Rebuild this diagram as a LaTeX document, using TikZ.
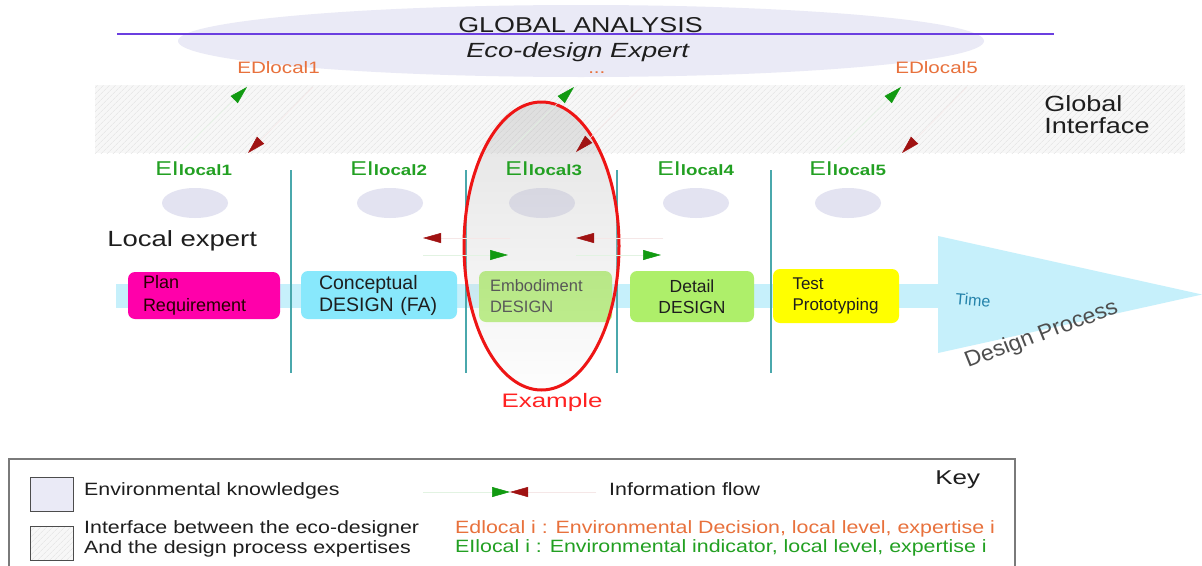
\documentclass[tikz,border=0pt]{standalone}
\usepackage{fontspec}
\setmainfont{Liberation Sans}
\usetikzlibrary{arrows.meta,patterns.meta,shapes.geometric}
\definecolor{cPurple}{HTML}{6B3FE0}
\definecolor{cBigEll}{HTML}{EAEAF6}
\definecolor{cSmallEll}{HTML}{E3E3F1}
\definecolor{cOrange}{HTML}{E8713C}
\definecolor{cGreenTxt}{HTML}{22A022}
\definecolor{cArrG}{HTML}{119A11}
\definecolor{cArrR}{HTML}{A01212}
\definecolor{cTeal}{HTML}{4AA8AC}
\definecolor{cTime}{HTML}{C6F0FB}
\definecolor{cMagenta}{HTML}{FF00AA}
\definecolor{cCyan}{HTML}{88E8FC}
\definecolor{cLime}{HTML}{AEEF6A}
\definecolor{cYellow}{HTML}{FFFF00}
\definecolor{cRed}{HTML}{EE1515}
\definecolor{cExample}{HTML}{FF2222}
\definecolor{cTimeTxt}{HTML}{2382AA}
\definecolor{cDP}{HTML}{4E4E4E}
\definecolor{cDark}{HTML}{1E1E1E}
\definecolor{cBorder}{HTML}{7A7A7A}
\newcommand\fsz[2]{\fontsize{#1}{#2}\selectfont}
\begin{document}
\begin{tikzpicture}[x=1pt,y=-1pt,
  txt/.style={inner sep=0pt, anchor=base west, text=cDark},
  hatch/.style={preaction={fill=black!3}, pattern={Lines[angle=45,distance=4pt,line width=0.5pt]}, pattern color=black!12},
  envk/.style={ellipse, fill=cSmallEll, minimum width=66pt, minimum height=30pt, inner sep=0pt},
  eilab/.style={txt, text=cGreenTxt, font=\fsz{20}{24}, xscale=1.25},
  edlab/.style={txt, text=cOrange, font=\fsz{16.5}{20}, xscale=1.25},
  vline/.style={draw=cTeal, line width=1.5pt},
  stage/.style={rectangle, rounded corners=7pt, inner ysep=0pt, align=left},
  flowg/.style={draw=cArrG!12, line width=0.5pt, -{Triangle[length=18pt,width=10pt,color=cArrG]}},
  flowr/.style={draw=cArrR!10, line width=0.5pt, -{Triangle[length=18pt,width=10pt,color=cArrR]}},
  legtxt/.style={txt, font=\fsz{17.8}{20}, xscale=1.2},
  keybox/.style={rectangle, draw=black!70, line width=0.8pt, minimum width=43pt, minimum height=34pt, inner sep=0pt}
]
\useasboundingbox (0,0) rectangle (1202,565);
\fill[white] (0,0) rectangle (1202,565);

% global analysis
\node[ellipse, fill=cBigEll, minimum width=806pt, minimum height=72pt, inner sep=0pt] (global) at (581,41) {};
\coordinate (pl) at (117,34);
\coordinate (pr) at (1054,34);
\draw[cPurple, line width=1.5pt] (pl) -- (pr);
\node[txt, font=\fsz{21.5}{26}, xscale=1.25] (ga) at (458,32) {GLOBAL ANALYSIS};
\node[txt, font=\fsz{20.5}{24}\itshape, xscale=1.33] (eco) at (466,57) {Eco-design Expert};

% global interface band
\node[hatch, minimum width=1090pt, minimum height=68pt, inner sep=0pt] (band) at (640,119) {};
\node[txt, font=\fsz{22}{22}, xscale=1.23, align=left] (gitxt) at (1044,133) {Global\\Interface};

% decisions
\node[edlab] (ed1) at (237,73) {EDlocal1};
\node[edlab] (ed3) at (588,73) {...};
\node[edlab] (ed5) at (895,73) {EDlocal5};

% environmental knowledge ellipses
\node[envk] (ek1) at (195,203) {};
\node[envk] (ek2) at (390,203) {};
\node[envk] (ek3) at (542,203) {};
\node[envk] (ek4) at (696,203) {};
\node[envk] (ek5) at (848,203) {};

% time band
\fill[cTime] (116,284) rectangle (940,308);
\fill[cTime] (938,236) -- (1202,294.5) -- (938,353) -- cycle;

% separators
\draw[vline] (291,170) -- (291,373);
\draw[vline] (466,170) -- (466,373);
\draw[vline] (617,170) -- (617,373);
\draw[vline] (771,170) -- (771,373);

% stages
\node[stage, fill=cMagenta, text=black!85!red, font=\fsz{18}{23}, inner xsep=15pt, text width=122pt, minimum height=47pt] (plan) at (204,295.5) {Plan\\Requirement};
\node[stage, fill=cCyan, text=cDark, font=\fsz{19.5}{22}, inner xsep=18pt, text width=120pt, minimum height=48pt] (concept) at (379,295) {Conceptual\\DESIGN (FA)};
\node[stage, fill=cLime, text=black!85, font=\fsz{16.5}{21}, inner xsep=11pt, text width=111pt, minimum height=51pt] (embod) at (545.5,296.5) {Embodiment\\DESIGN};
\node[stage, fill=cLime, text=cDark, font=\fsz{17.5}{21}, align=center, inner xsep=12pt, text width=100pt, minimum height=51pt] (detail) at (692,296.5) {Detail\\DESIGN};
\node[stage, fill=cYellow, text=cDark, font=\fsz{17}{21}, inner xsep=19.5pt, text width=87pt, minimum height=54pt] (test) at (836,296) {Test\\Prototyping};

% example ellipse
\node[ellipse, minimum width=155pt, minimum height=288pt, inner sep=0pt, top color=black!38, bottom color=black!2, fill opacity=0.28, draw=cRed, line width=3pt] (example) at (541.5,246) {};
\node[txt, text=cExample, font=\fsz{19.5}{24}, xscale=1.33, anchor=base] (extxt) at (552,407) {Example};

% indicators
\node[eilab] (ei1) at (155,175) {EI{\fsz{15}{18}\bfseries local1}};
\node[eilab] (ei2) at (350,175) {EI{\fsz{15}{18}\bfseries local2}};
\node[eilab] (ei3) at (505,175) {EI{\fsz{15}{18}\bfseries local3}};
\node[eilab] (ei4) at (657,175) {EI{\fsz{15}{18}\bfseries local4}};
\node[eilab] (ei5) at (809,175) {EI{\fsz{15}{18}\bfseries local5}};

% diagonal flows through the global interface
\coordinate (g1a) at (183,150); \coordinate (g1b) at (247,87);
\coordinate (r1a) at (313,87);  \coordinate (r1b) at (248,153);
\coordinate (g3a) at (510,150); \coordinate (g3b) at (574,87);
\coordinate (r3a) at (641,87);  \coordinate (r3b) at (576,152);
\coordinate (g5a) at (837,150); \coordinate (g5b) at (901,87);
\coordinate (r5a) at (967,87);  \coordinate (r5b) at (902,153);
\draw[flowg] (g1a) -- (g1b);
\draw[flowr] (r1a) -- (r1b);
\draw[flowg] (g3a) -- (g3b);
\draw[flowr] (r3a) -- (r3b);
\draw[flowg] (g5a) -- (g5b);
\draw[flowr] (r5a) -- (r5b);

% local flows
\coordinate (lr1a) at (510,238); \coordinate (lr1b) at (423,238);
\coordinate (lg1a) at (423,255); \coordinate (lg1b) at (508,255);
\coordinate (lr2a) at (663,238); \coordinate (lr2b) at (576,238);
\coordinate (lg2a) at (576,255); \coordinate (lg2b) at (661,255);
\draw[flowr] (lr1a) -- (lr1b);
\draw[flowg] (lg1a) -- (lg1b);
\draw[flowr] (lr2a) -- (lr2b);
\draw[flowg] (lg2a) -- (lg2b);

\node[txt, font=\fsz{22}{26}, xscale=1.25] (local) at (107,246) {Local expert};

% time labels
\node[txt, text=cTimeTxt, font=\fsz{16}{18}, rotate=-5] (time) at (955,304) {Time};
\node[txt, text=cDP, font=\fsz{22}{24}, xscale=1.05, rotate=21] (dproc) at (968,368) {Design Process};

% key
\coordinate (kb1) at (9,570); \coordinate (kb2) at (9,459);
\coordinate (kb3) at (1015,459); \coordinate (kb4) at (1015,570);
\draw[cBorder, line width=1.5pt] (kb1) -- (kb2) -- (kb3) -- (kb4);
\node[keybox, fill=cBigEll] (k1) at (51.5,494) {};
\node[keybox, hatch] (k2) at (51.5,543) {};
\node[legtxt] (k1t) at (84,495) {Environmental knowledges};
\node[legtxt, align=left, font=\fsz{17.8}{20}] (k2t) at (84,553) {Interface between the eco-designer\\And the design process expertises};
\coordinate (kg) at (423,492); \coordinate (kr) at (596,492); \coordinate (km) at (510,492);
\draw[flowg] (kg) -- (km);
\draw[flowr] (kr) -- (km);
\node[legtxt] (kft) at (609,495) {Information flow};
\node[txt, font=\fsz{20}{24}, xscale=1.3] (key) at (935,484) {Key};
\node[legtxt, text=cOrange] (kedt) at (455,533) {Edlocal i : Environmental Decision, local level, expertise i};
\node[legtxt, text=cGreenTxt] (keit) at (455,552) {EIlocal i : Environmental indicator, local level, expertise i};
\end{tikzpicture}
\end{document}
